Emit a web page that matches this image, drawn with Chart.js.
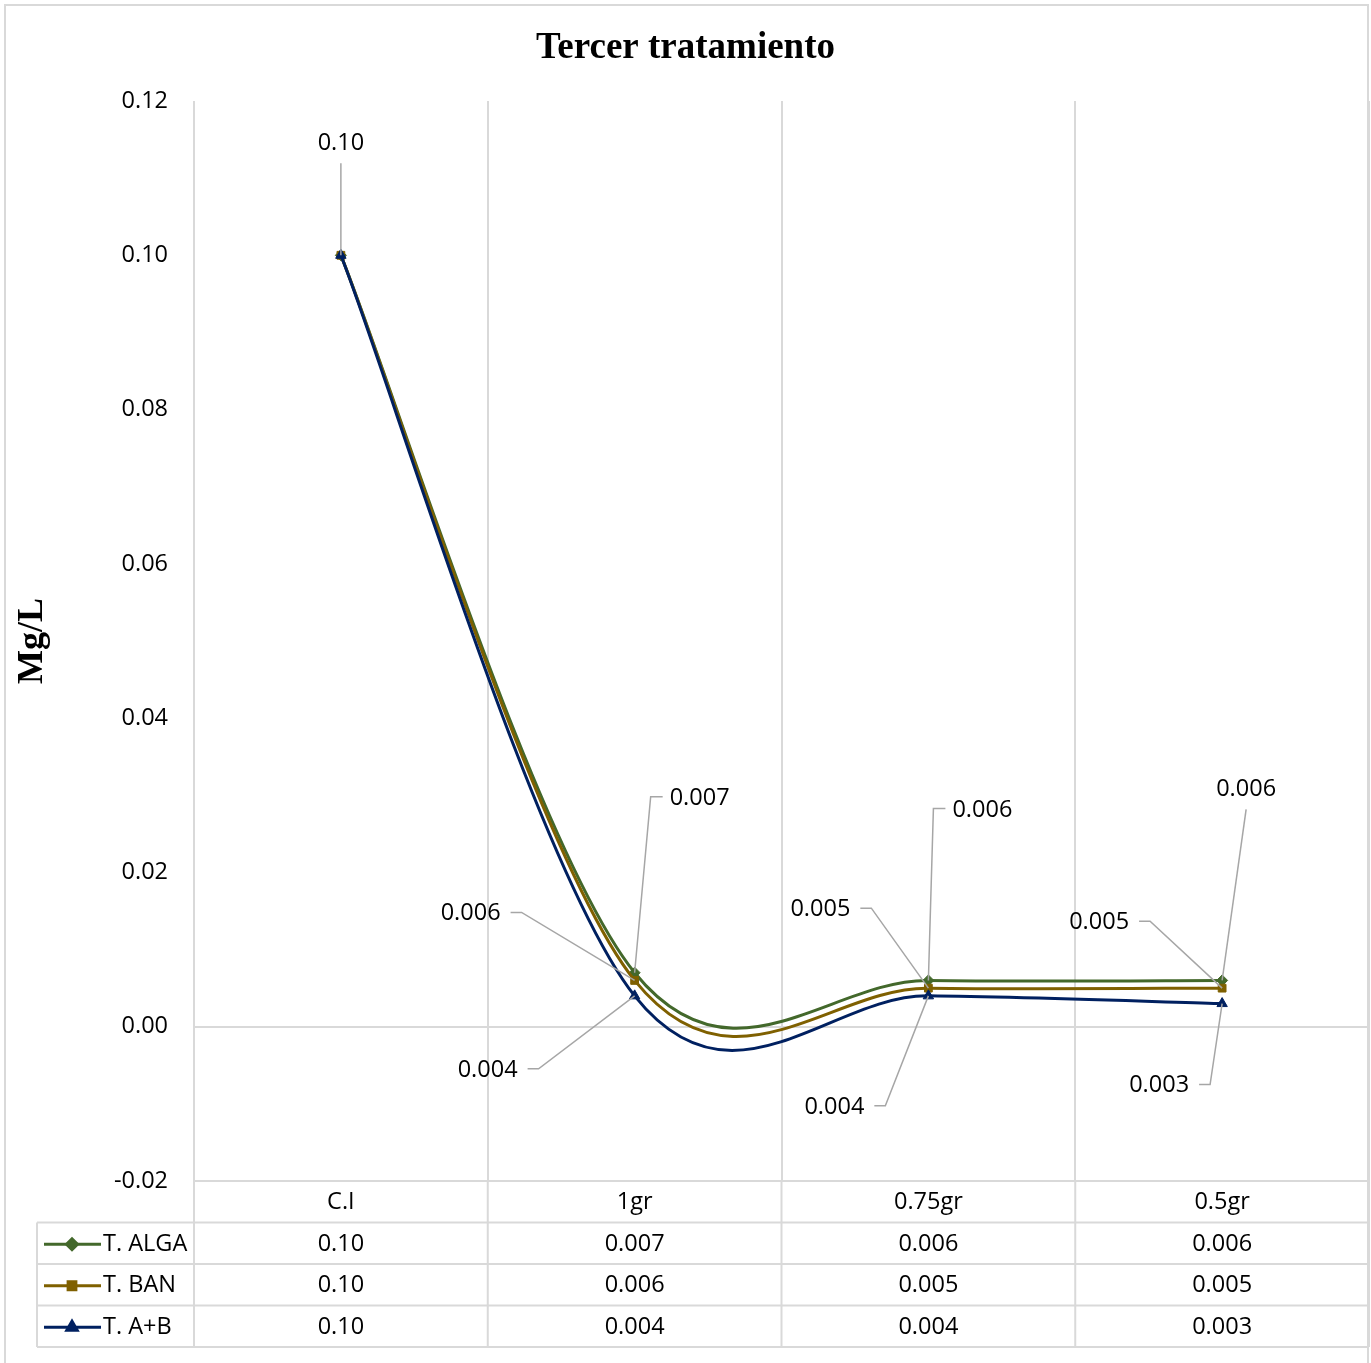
<!DOCTYPE html>
<html>
<head>
<meta charset="utf-8">
<title>Tercer tratamiento</title>
<script src="https://cdn.jsdelivr.net/npm/chart.js@4/dist/chart.umd.min.js"></script>
<style>
  html, body { margin: 0; padding: 0; background: #fff; }
  #wrap { width: 1371px; height: 1363px; }
</style>
</head>
<body>
<div id="wrap"><canvas id="c" width="1371" height="1363"></canvas></div>
<script>
// Categories and series (mg/L)
const categories = ['C.I', '1gr', '0.75gr', '0.5gr'];
const seriesNames = ['T. ALGA', 'T. BAN', 'T. A+B'];
const alga = [0.10, 0.007, 0.006, 0.006];
const ban  = [0.10, 0.006, 0.005, 0.005];
const ab   = [0.10, 0.004, 0.004, 0.003];
const yTicks = [-0.02, 0.00, 0.02, 0.04, 0.06, 0.08, 0.10, 0.12];

const colors = ['#43682B', '#7F6000', '#002060'];
const markers = ['rectRot', 'rect', 'triangle'];
const FONT = '"Open Sans", "Noto Sans", sans-serif';
const FSIZE = 23.5;
const GRID = '#d9d9d9';

function fmt(v) { return v >= 0.1 ? v.toFixed(2) : v.toFixed(3); }

// Data-label placement: text centre offset from the point, and which side the leader leaves from
const labelLayout = [
  [{dx: 0, dy: -112, side: 'bottom'}, {dx: 65, dy: -174, side: 'left'}, {dx: 54, dy: -170, side: 'left'}, {dx: 24, dy: -191, side: 'bottom'}],
  [null, {dx: -164, dy: -67, side: 'right'}, {dx: -108, dy: -79, side: 'right'}, {dx: -123, dy: -66, side: 'right'}],
  [null, {dx: -147, dy: 74, side: 'right'}, {dx: -94, dy: 111, side: 'right'}, {dx: -63, dy: 82, side: 'right'}]
];

// Catmull-Rom style smoothing (tangent = (next - prev) / 6), replacing the default spline control points
const smoothPlugin = {
  id: 'catmullSmooth',
  afterDatasetsUpdate(chart) {
    chart.data.datasets.forEach((ds, s) => {
      const meta = chart.getDatasetMeta(s);
      const pts = meta.data;
      const n = pts.length;
      for (let i = 0; i < n; i++) {
        const p = pts[i];
        const prev = pts[Math.max(i - 1, 0)];
        const next = pts[Math.min(i + 1, n - 1)];
        const tx = (next.x - prev.x) / 6, ty = (next.y - prev.y) / 6;
        p.cp1x = p.x - tx; p.cp1y = p.y - ty;
        p.cp2x = p.x + tx; p.cp2y = p.y + ty;
      }
      if (meta.dataset) meta.dataset._pointsUpdated = true;
    });
  }
};

const framePlugin = {
  id: 'frame',
  beforeDraw(chart) {
    const ctx = chart.ctx;
    ctx.save();
    ctx.fillStyle = '#fff';
    ctx.fillRect(0, 0, chart.width, chart.height);
    ctx.strokeStyle = GRID;
    ctx.lineWidth = 2;
    ctx.strokeRect(5, 5, 1363, 1370);
    ctx.restore();
  },
  afterDraw(chart) {
    const ctx = chart.ctx;
    ctx.save();
    ctx.fillStyle = '#000';
    ctx.font = 'bold 37px "Liberation Serif", "Times New Roman", serif';
    ctx.textAlign = 'center';
    ctx.textBaseline = 'middle';
    ctx.fillText('Tercer tratamiento', chart.width / 2, 48);
    ctx.save();
    ctx.translate(33, 641);
    ctx.rotate(-Math.PI / 2);
    ctx.font = 'bold 36px "Liberation Serif", "Times New Roman", serif';
    ctx.fillText('Mg/L', 0, 0);
    ctx.restore();
    ctx.restore();
  }
};

// Data table under the plot: category header row plus one row per series
const tablePlugin = {
  id: 'dataTable',
  afterDraw(chart) {
    const ctx = chart.ctx;
    const xs = chart.scales.x;
    const area = chart.chartArea;
    const rowH = 41.5;
    const top = area.bottom;
    const leftEdge = 37;
    const n = categories.length;
    const step = xs.getPixelForValue(1) - xs.getPixelForValue(0);
    const bounds = [];
    for (let i = 0; i <= n; i++) bounds.push(xs.getPixelForValue(0) - step / 2 + i * step);
    ctx.save();
    ctx.strokeStyle = GRID;
    ctx.lineWidth = 2;
    ctx.beginPath();
    for (let r = 1; r <= 4; r++) {
      const y = top + r * rowH;
      ctx.moveTo(leftEdge, y); ctx.lineTo(area.right, y);
    }
    ctx.moveTo(leftEdge, top + rowH); ctx.lineTo(leftEdge, top + 4 * rowH);
    bounds.forEach(b => { ctx.moveTo(b, top); ctx.lineTo(b, top + 4 * rowH); });
    ctx.stroke();

    ctx.font = FSIZE + 'px ' + FONT;
    ctx.textBaseline = 'middle';
    ctx.fillStyle = '#000';
    ctx.textAlign = 'center';
    categories.forEach((c, i) => ctx.fillText(c, xs.getPixelForValue(i), top + 0.5 * rowH + 1));

    const series = [alga, ban, ab];
    series.forEach((vals, s) => {
      const cy = top + (s + 1.5) * rowH + 1;
      ctx.strokeStyle = colors[s];
      ctx.lineWidth = 3;
      ctx.beginPath(); ctx.moveTo(44, cy); ctx.lineTo(101, cy); ctx.stroke();
      ctx.fillStyle = colors[s];
      Chart.helpers.drawPoint(ctx, {pointStyle: markers[s], radius: s === 2 ? 6 : 5.5, borderWidth: 1}, 72, cy);
      ctx.fillStyle = '#000';
      ctx.textAlign = 'left';
      ctx.fillText(seriesNames[s], 103, cy);
      ctx.textAlign = 'center';
      vals.forEach((v, i) => ctx.fillText(fmt(v), xs.getPixelForValue(i), cy));
    });
    ctx.restore();
  }
};

const labelPlugin = {
  id: 'leaderLabels',
  afterDatasetsDraw(chart) {
    const ctx = chart.ctx;
    ctx.save();
    ctx.font = FSIZE + 'px ' + FONT;
    ctx.textAlign = 'center';
    ctx.textBaseline = 'middle';
    chart.data.datasets.forEach((ds, s) => {
      const meta = chart.getDatasetMeta(s);
      meta.data.forEach((pt, i) => {
        const L = labelLayout[s][i];
        if (!L) return;
        const txt = fmt(ds.data[i]);
        const cx = pt.x + L.dx, cy = pt.y + L.dy;
        const w = ctx.measureText(txt).width;
        ctx.strokeStyle = '#a6a6a6';
        ctx.lineWidth = 1.5;
        ctx.beginPath();
        if (L.side === 'bottom') {
          ctx.moveTo(cx, cy + 20);
        } else if (L.side === 'left') {
          ctx.moveTo(cx - w / 2 - 7, cy - 2);
          ctx.lineTo(cx - w / 2 - 19, cy - 2);
        } else {
          ctx.moveTo(cx + w / 2 + 10, cy - 1);
          ctx.lineTo(cx + w / 2 + 21, cy - 1);
        }
        ctx.lineTo(pt.x, pt.y);
        ctx.stroke();
        ctx.fillStyle = '#000';
        ctx.fillText(txt, cx, cy);
      });
    });
    ctx.restore();
  }
};

const mkDataset = (label, data, i) => ({
  label, data,
  borderColor: colors[i],
  backgroundColor: colors[i],
  borderWidth: 3,
  pointStyle: markers[i],
  pointRadius: i === 2 ? 6 : 5.5,
  pointBorderWidth: 1,
  tension: 0.4,
  order: 3 - i
});

new Chart(document.getElementById('c'), {
  type: 'line',
  data: {
    labels: categories,
    datasets: [mkDataset(seriesNames[0], alga, 0), mkDataset(seriesNames[1], ban, 1), mkDataset(seriesNames[2], ab, 2)]
  },
  options: {
    responsive: false,
    animation: false,
    devicePixelRatio: 1,
    layout: { autoPadding: false, padding: { left: 0, top: 101, right: 2, bottom: 0 } },
    plugins: { legend: { display: false }, title: { display: false }, tooltip: { enabled: false } },
    scales: {
      x: {
        offset: true,
        grid: { offset: true, color: GRID, lineWidth: 2, drawTicks: false },
        border: { display: true, color: GRID, width: 2 },
        ticks: { display: false },
        afterFit(scale) { scale.height = 182; }
      },
      y: {
        min: -0.02, max: 0.12,
        afterBuildTicks(scale) { scale.ticks = yTicks.map(v => ({ value: v })); },
        grid: {
          color: c => (c.tick && Math.abs(c.tick.value) < 1e-9) ? GRID : 'rgba(0,0,0,0)',
          lineWidth: 2, drawTicks: false
        },
        border: { display: false },
        ticks: {
          font: { family: FONT, size: FSIZE }, color: '#000', padding: 26,
          callback: v => v.toFixed(2)
        },
        afterFit(scale) { scale.width = 194; }
      }
    }
  },
  plugins: [smoothPlugin, framePlugin, tablePlugin, labelPlugin]
});
</script>
</body>
</html>
